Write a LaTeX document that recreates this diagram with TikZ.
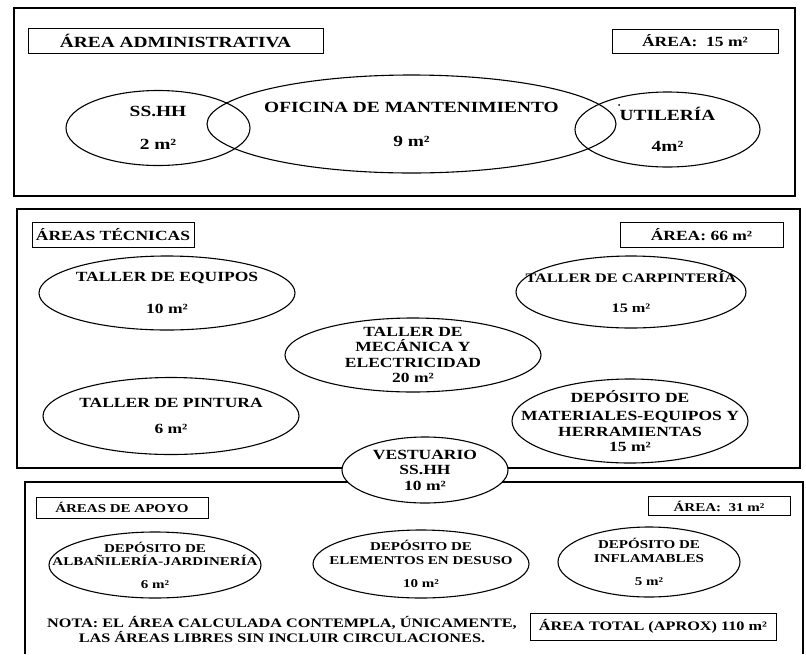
\documentclass[tikz,border=0pt]{standalone}
\usepackage{fontspec}
\setmainfont[FakeStretch=1.25]{Liberation Serif}
\usetikzlibrary{shapes,positioning}

\begin{document}
\begin{tikzpicture}[x=1pt,y=-1pt,
    zone/.style={ellipse, draw, line width=1.1pt, inner sep=0pt},
    tag/.style={rectangle, draw, line width=1pt, inner sep=0pt},
    txtA/.style={font=\bfseries\fontsize{15.5}{17}\selectfont, align=center},
    txtB/.style={font=\bfseries\fontsize{14}{15.5}\selectfont, align=center},
    txtC/.style={font=\bfseries\fontsize{12}{13.5}\selectfont, align=center}]
        \useasboundingbox (0,0) rectangle (806,654);
        % panels
        \draw[line width=1.2pt] (14,8) rectangle (795,196);
        \draw[line width=1.2pt] (17,209) rectangle (800,468);
        \draw[line width=1.2pt] (25,654) -- (25,482) -- (803,482) -- (803,654);
        % area administrativa
        \node[tag, txtA, minimum width=295pt, minimum height=25pt] at (175.5,40.5) (admtitle) {ÁREA ADMINISTRATIVA};
        \node[tag, txtB, minimum width=166pt, minimum height=24pt] at (695,41) (admarea) {ÁREA:\ \ 15 m²};
        \node[zone, minimum width=184pt, minimum height=75pt, label={[txtA]center:SS.HH\\[16pt]2 m²}] at (158,128) (sshh) {};
        \node[zone, minimum width=409pt, minimum height=98pt, label={[txtA]center:OFICINA DE MANTENIMIENTO\\[17pt]9 m²}] at (411.5,124) (oficina) {};
        \node[zone, minimum width=185pt, minimum height=75pt, label={[txtA]center:UTILERÍA\\[14pt]4m²}] at (667.5,129.5) (utileria) {};
        \fill (619,105) circle (1pt);
        % areas tecnicas
        \node[tag, txtB, minimum width=162pt, minimum height=25pt] at (113,234.5) (tectitle) {ÁREAS TÉCNICAS};
        \node[tag, txtB, minimum width=163pt, minimum height=25pt] at (701.5,234.5) (tecarea) {ÁREA: 66 m²};
        \node[zone, minimum width=256pt, minimum height=74pt, label={[txtB]center:TALLER DE EQUIPOS\\[16pt]10 m²}] at (167,293) (equipos) {};
        \node[zone, minimum width=230pt, minimum height=72pt, label={[txtB, font=\bfseries\fontsize{13}{15}\selectfont]center:TALLER DE CARPINTERÍA\\[15pt]15 m²}] at (631,292) (carpinteria) {};
        \node[zone, minimum width=256pt, minimum height=74pt, label={[txtB]center:TALLER DE\\MECÁNICA Y\\ELECTRICIDAD\\20 m²}] at (413,355) (mecanica) {};
        \node[zone, minimum width=256pt, minimum height=77pt, label={[txtB]center:TALLER DE PINTURA\\[11pt]6 m²}] at (171,416) (pintura) {};
        \node[zone, minimum width=236pt, minimum height=84pt, label={[txtB]center:DEPÓSITO DE\\[3pt]MATERIALES-EQUIPOS Y\\HERRAMIENTAS\\15 m²}] at (630,421) (materiales) {};
        \node[zone, fill=white, minimum width=166pt, minimum height=66pt, label={[txtB]center:VESTUARIO\\SS.HH\\10 m²}] at (425,470) (vestuario) {};
        % areas de apoyo
        \node[tag, txtC, minimum width=172pt, minimum height=21pt] at (122,507.5) (apotitle) {ÁREAS DE APOYO};
        \node[tag, txtC, minimum width=142pt, minimum height=19pt] at (719,506) (apoarea) {ÁREA:\ \ 31 m²};
        \node[zone, minimum width=212pt, minimum height=66pt, label={[txtC]center:DEPÓSITO DE\\ALBAÑILERÍA-JARDINERÍA\\[9pt]6 m²}] at (155,565) (albanileria) {};
        \node[zone, minimum width=216pt, minimum height=68pt, label={[txtC]center:DEPÓSITO DE\\ELEMENTOS EN DESUSO\\[10pt]10 m²}] at (421,564) (desuso) {};
        \node[zone, minimum width=182pt, minimum height=70pt, label={[txtC]center:DEPÓSITO DE\\INFLAMABLES\\[10pt]5 m²}] at (649,562) (inflamables) {};
        \node[txtC, font=\bfseries\fontsize{13}{15}\selectfont] at (282,630) (nota) {NOTA: EL ÁREA CALCULADA CONTEMPLA, ÚNICAMENTE,\\LAS ÁREAS LIBRES SIN INCLUIR CIRCULACIONES.};
        \node[tag, font=\bfseries\fontsize{13}{15}\selectfont, minimum width=246pt, minimum height=27pt] at (653,626.5) (total) {ÁREA TOTAL (APROX) 110 m²};
\end{tikzpicture}
\end{document}
